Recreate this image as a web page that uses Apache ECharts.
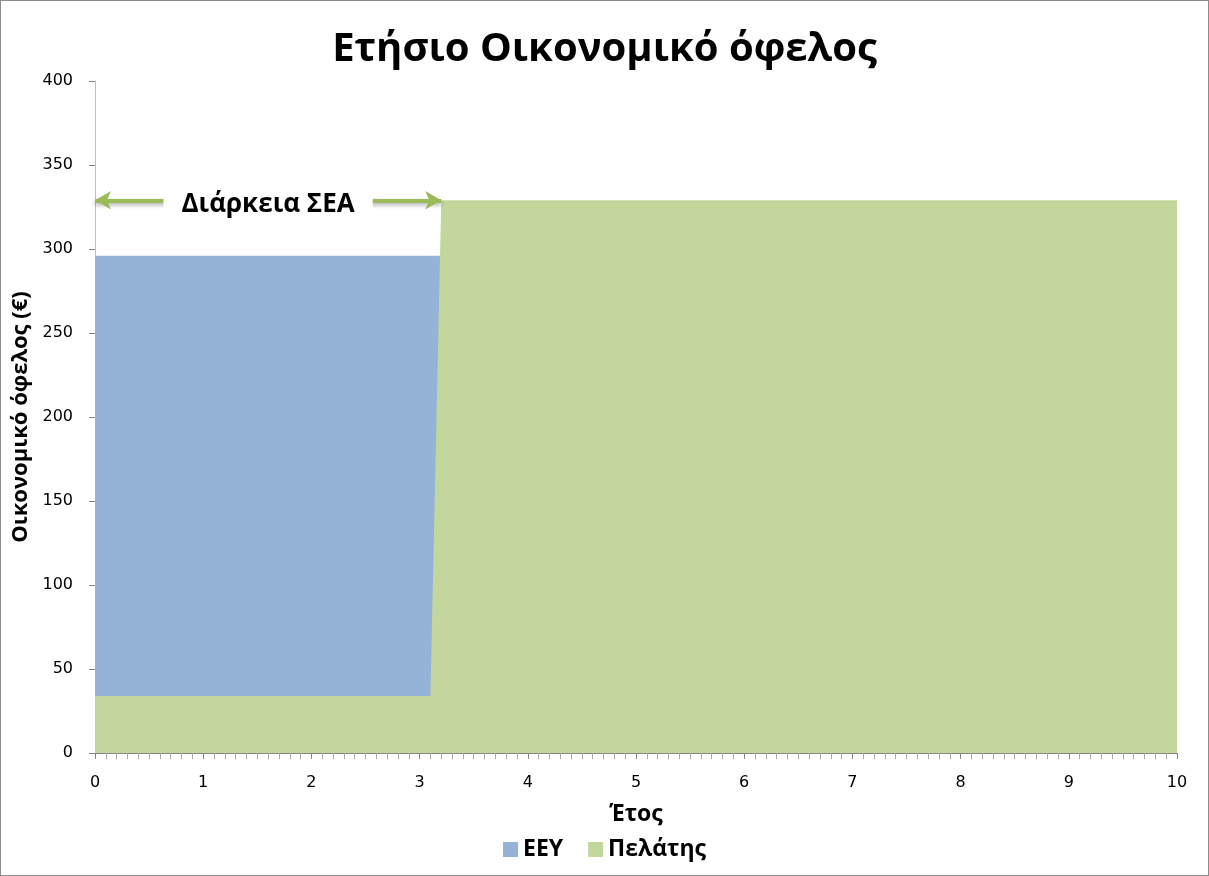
<!DOCTYPE html>
<html>
<head>
<meta charset="utf-8">
<script src="https://cdn.jsdelivr.net/npm/echarts@6/dist/echarts.min.js"></script>
<style>
  html, body { margin: 0; padding: 0; background: #fff; }
  #chart { width: 1207px; height: 874px; border: 1px solid #8c8c8c; }
</style>
</head>
<body>
<div id="chart"></div>
<script>
// Ετήσιο οικονομικό όφελος
const years = [0, 3.1, 3.2, 10];
const eey = [296, 296, 296, null];
const pelatis = [34, 34, 329, 329];
const seaRange = [0, 3.2];
const seaLevel = 329;

const toPairs = (vals) => years.map((y, i) => [y, vals[i]]);

let myChart = echarts.init(document.getElementById("chart"));
myChart.setOption({
  animation: false,
  color: ["#95b3d7", "#c3d69b"],
  title: {
    text: "Ετήσιο Οικονομικό όφελος",
    left: "center",
    top: 24,
    textStyle: {
      fontFamily: "Open Sans",
      fontWeight: "bold",
      fontSize: 40,
      color: "#000"
    }
  },
  legend: {
    data: ["ΕΕΥ", "Πελάτης"],
    left: "center",
    top: 832,
    icon: "rect",
    itemWidth: 15,
    itemHeight: 15,
    itemGap: 25,
    textStyle: {
      fontFamily: "Open Sans",
      fontWeight: "bold",
      fontSize: 23,
      color: "#000"
    }
  },
  grid: {
    left: 94,
    right: 31,
    top: 80,
    bottom: 122
  },
  xAxis: {
    type: "value",
    min: 0,
    max: 10,
    interval: 1,
    name: "Έτος",
    nameLocation: "middle",
    nameGap: 50,
    nameTextStyle: {
      fontFamily: "Open Sans",
      fontWeight: "bold",
      fontSize: 23,
      color: "#000"
    },
    axisLine: { show: true, lineStyle: { color: "#868686", width: 1 } },
    axisTick: { show: true, length: 6, lineStyle: { color: "#868686" } },
    minorTick: { show: true, splitNumber: 10, length: 6, lineStyle: { color: "#a6a6a6" } },
    splitLine: { show: false },
    axisLabel: {
      fontFamily: "DejaVu Sans",
      fontSize: 16,
      color: "#000",
      margin: 22
    }
  },
  yAxis: {
    type: "value",
    min: 0,
    max: 400,
    interval: 50,
    name: "Οικονομικό όφελος (€)",
    nameLocation: "middle",
    nameGap: 46,
    nameTextStyle: {
      fontFamily: "Open Sans",
      fontWeight: "bold",
      fontSize: 22,
      color: "#000"
    },
    axisLine: { show: true, lineStyle: { color: "#bfbfbf", width: 1 } },
    axisTick: { show: true, length: 6, lineStyle: { color: "#868686" } },
    splitLine: { show: false },
    axisLabel: {
      fontFamily: "DejaVu Sans",
      fontSize: 16,
      color: "#000",
      margin: 22
    }
  },
  series: [
    {
      name: "ΕΕΥ",
      type: "line",
      data: toPairs(eey),
      symbol: "none",
      lineStyle: { width: 0 },
      areaStyle: { color: "#95b3d7", opacity: 1 }
    },
    {
      name: "Πελάτης",
      type: "line",
      data: toPairs(pelatis),
      symbol: "none",
      lineStyle: { width: 0 },
      areaStyle: { color: "#c3d69b", opacity: 1 },
      markLine: {
        silent: true,
        symbol: ["arrow", "arrow"],
        symbolSize: [14, 16],
        lineStyle: {
          color: "#9bbb59",
          width: 4,
          type: "solid",
          shadowColor: "rgba(0,0,0,0.35)",
          shadowBlur: 4,
          shadowOffsetY: 2
        },
        label: {
          show: true,
          position: "middle",
          distance: -19,
          formatter: "Διάρκεια ΣΕΑ",
          fontFamily: "Open Sans",
          fontWeight: "bold",
          fontSize: 26,
          color: "#000",
          backgroundColor: "#fff",
          padding: [2, 18]
        },
        data: [[{ coord: [seaRange[0], seaLevel] }, { coord: [seaRange[1], seaLevel] }]]
      }
    }
  ]
});
</script>
</body>
</html>
